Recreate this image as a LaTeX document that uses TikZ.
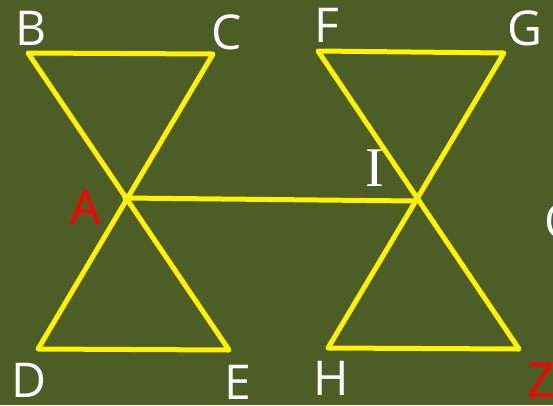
\documentclass[tikz,border=0pt]{standalone}
\usepackage{fontspec}
\setmainfont{Open Sans}
\newfontfamily\serifI{Liberation Serif}
\usepackage{tikz}
\usetikzlibrary{positioning}
\definecolor{board}{RGB}{76,94,37}

\begin{document}
\begin{tikzpicture}[
  x=1pt, y=-1pt,
  seg/.style={draw=yellow, line width=5pt, line cap=round, line join=round},
  lbl/.style={font=\fontsize{48}{48}\selectfont, text=white, inner sep=0pt},
  redlbl/.style={lbl, text=red},
]
\fill[board] (0,0) rectangle (553,405);
\useasboundingbox (0,0) rectangle (553,405);

% --- Left hourglass ---
\coordinate (B) at (28,53);
\coordinate (C) at (213,54);
\coordinate (A) at (125,198);
\coordinate (D) at (38,349);
\coordinate (E) at (229,350);

% --- Right hourglass ---
\coordinate (F) at (318,51);
\coordinate (G) at (504,53);
\coordinate (I) at (416,201);
\coordinate (H) at (328,348);
\coordinate (Z) at (519,349);

\draw[seg] (B) -- (C) -- (D) -- (E) -- cycle;
\draw[seg] (F) -- (G) -- (H) -- (Z) -- cycle;
\draw[seg] (A) -- (I);

% --- Labels ---
\node[lbl] (lB) at (31,28) {B};
\node[lbl] (lC) at (227,32) {C};
\node[redlbl] (lA) at (86,207) {A};
\node[lbl] (lD) at (29,380) {D};
\node[lbl] (lE) at (238,382) {E};
\node[lbl] (lF) at (327,25) {F};
\node[lbl] (lG) at (525,28) {G};
\node[lbl, font=\serifI\fontsize{56}{56}\selectfont] (lI) at (375,168) {I};
\node[lbl] (lH) at (331,378) {H};
\node[redlbl] (lZ) at (541,380) {Z};
\node[lbl] (lO) at (563,221) {O};
\end{tikzpicture}
\end{document}
